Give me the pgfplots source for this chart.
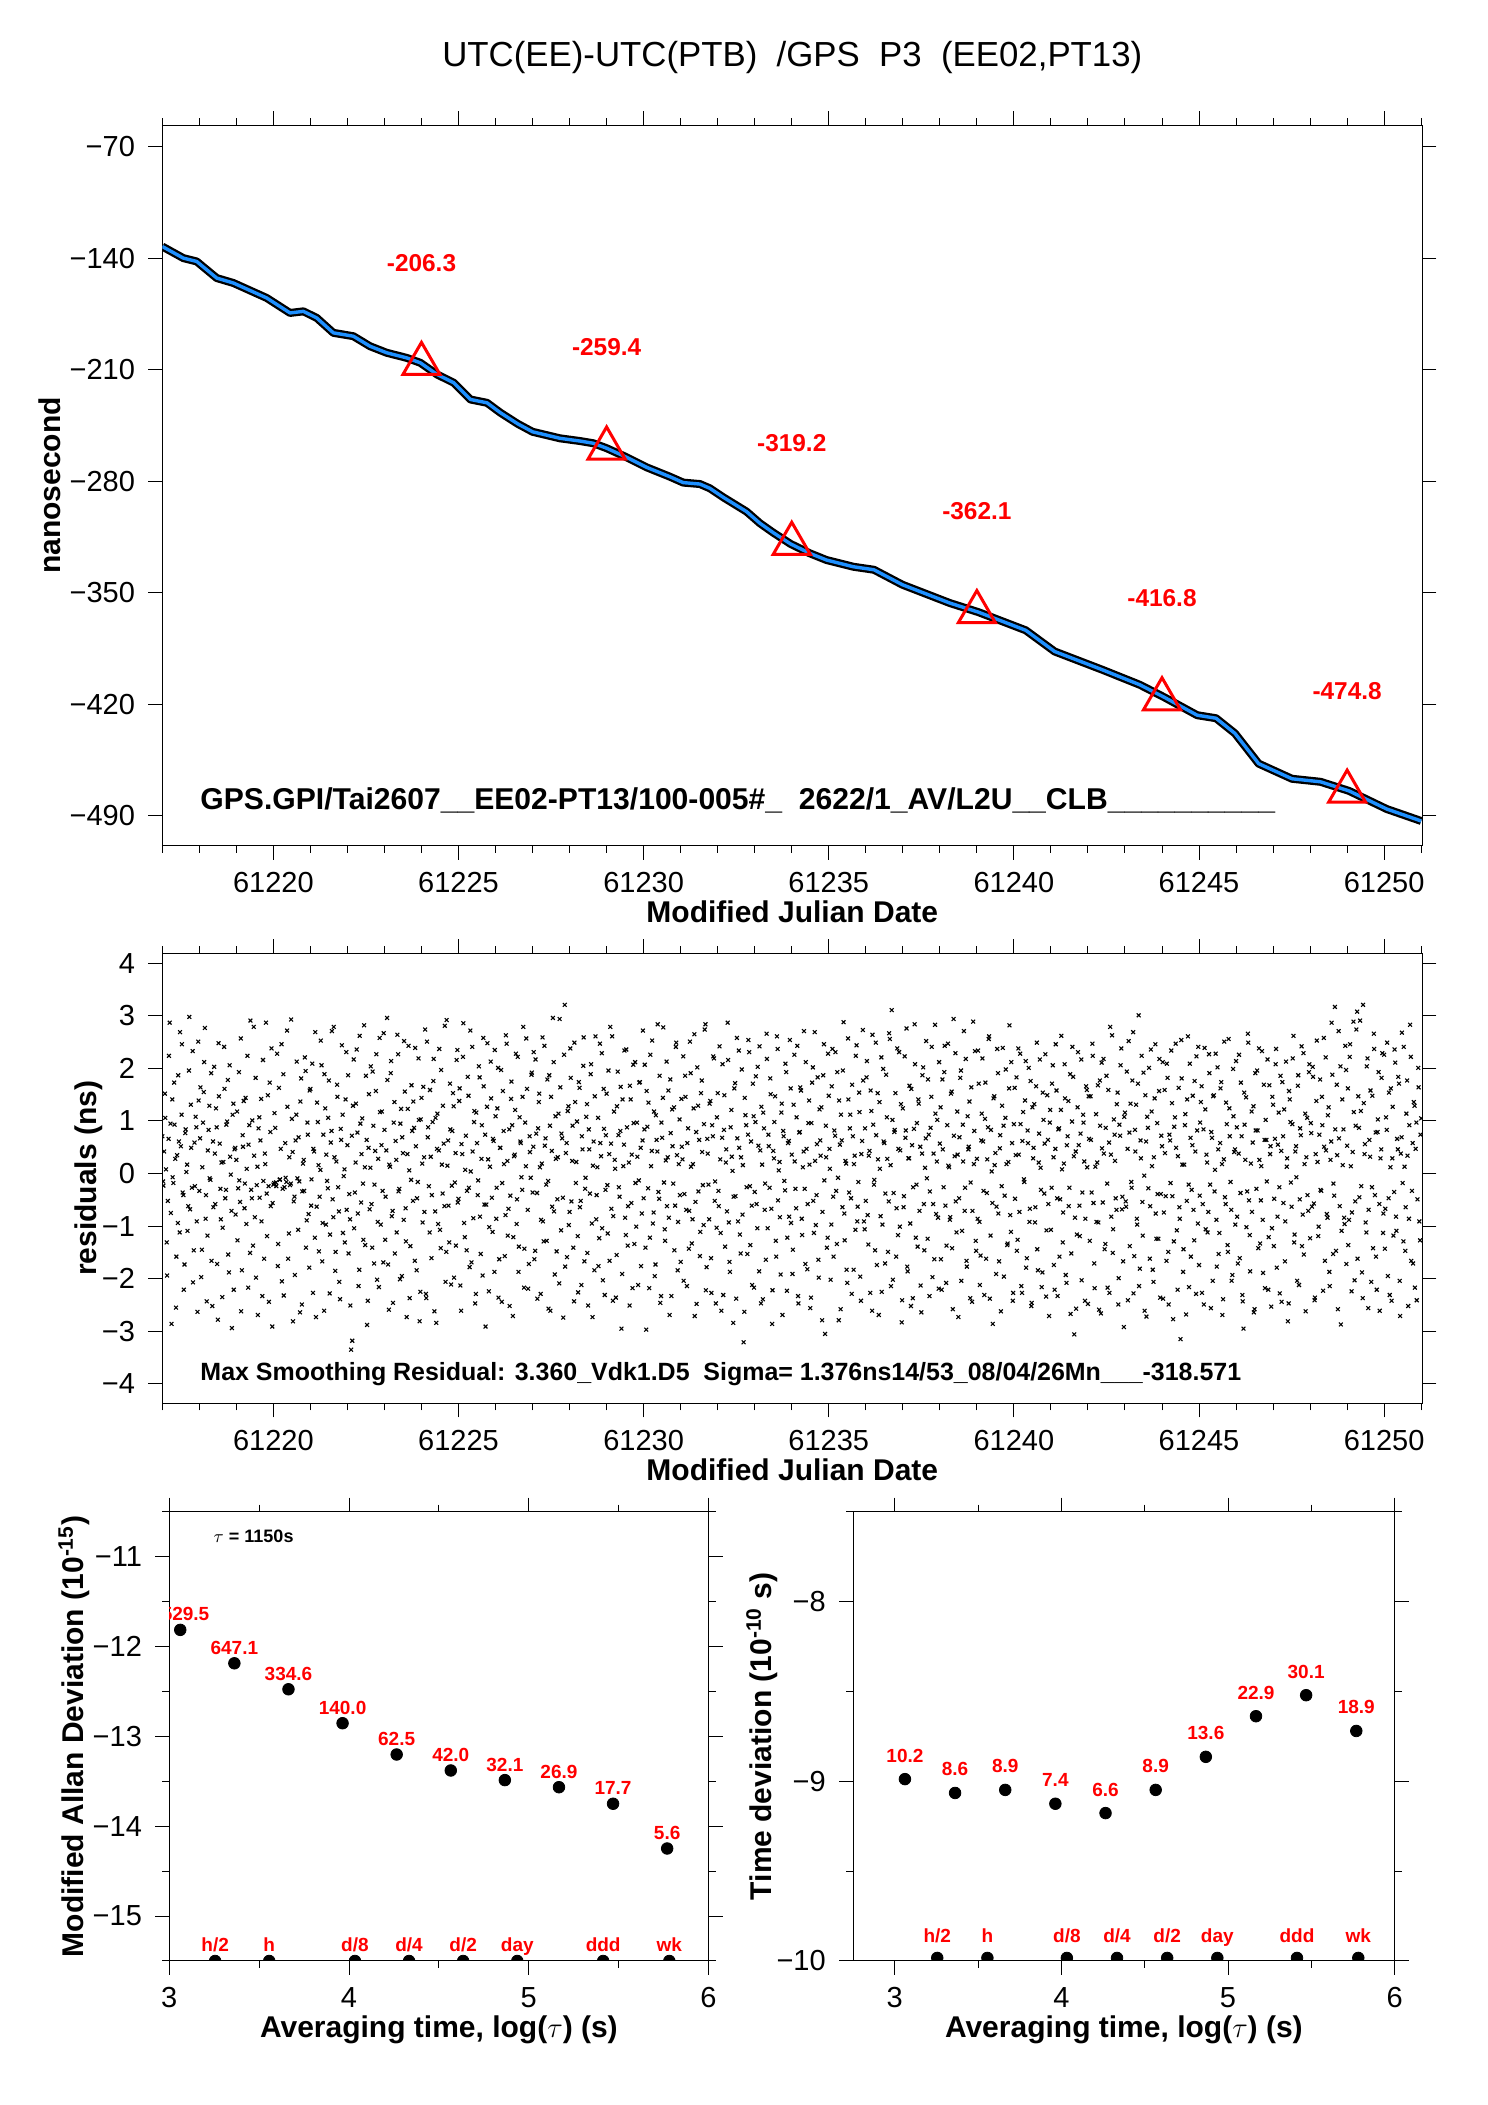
\documentclass[border=0pt]{standalone}
\usepackage{fontspec}
\setmainfont{Liberation Sans}
\usepackage{pgfplots}
\usepackage{pgfplotstable}
\pgfplotsset{compat=1.18}
\definecolor{lineblue}{RGB}{30,144,255}

\pgfplotstableread{
x y
17.00 -132.7
17.57 -140.0
17.93 -142.1
18.47 -152.5
18.92 -155.6
19.82 -165.0
20.45 -174.4
20.81 -173.4
21.17 -177.5
21.62 -186.9
22.16 -189.0
22.61 -195.3
23.06 -199.4
23.60 -202.6
23.97 -205.7
24.42 -213.0
24.87 -218.2
25.32 -228.7
25.77 -230.8
26.13 -237.0
26.60 -244.0
27.00 -249.0
27.74 -253.1
28.28 -254.8
28.64 -256.2
29.00 -259.3
29.54 -265.0
30.08 -271.3
30.71 -277.2
31.07 -280.9
31.52 -281.8
31.79 -284.5
32.15 -290.1
32.78 -299.1
33.14 -306.4
33.50 -312.3
33.97 -319.4
34.49 -325.3
34.94 -329.5
35.66 -333.7
36.22 -335.6
36.99 -345.0
38.27 -356.5
39.04 -362.2
40.32 -373.6
41.10 -386.9
42.38 -398.3
43.40 -407.8
44.05 -415.5
44.95 -426.9
45.46 -428.8
45.97 -438.3
46.61 -457.3
47.51 -466.8
48.28 -468.7
49.05 -474.4
50.07 -485.8
51.00 -493.3
}\smoothtab

\pgfplotstableread{
x y lab
24 -206.3 -206.3
29 -259.4 -259.4
34 -319.2 -319.2
39 -362.1 -362.1
44 -416.8 -416.8
49 -474.8 -474.8
}\tritab

\pgfplotstableread{
x y lab
3.061 -11.815 1529.5
3.362 -12.187 647.1
3.663 -12.476 334.6
3.964 -12.854 140.0
4.265 -13.202 62.5
4.566 -13.380 42.0
4.867 -13.487 32.1
5.168 -13.566 26.9
5.469 -13.750 17.7
5.770 -14.248 5.6
}\mdevtab

\pgfplotstableread{
x y lab
3.061 -8.988 10.2
3.362 -9.065 8.6
3.663 -9.048 8.9
3.964 -9.125 7.4
4.265 -9.177 6.6
4.566 -9.048 8.9
4.867 -8.864 13.6
5.168 -8.638 22.9
5.469 -8.521 30.1
5.770 -8.720 18.9
}\tdevtab

\pgfplotstableread{
x y lab
3.255 -15.5 h/2
3.556 -15.5 h
4.033 -15.5 d/8
4.334 -15.5 d/4
4.635 -15.5 d/2
4.936 -15.5 day
5.414 -15.5 ddd
5.782 -15.5 wk
}\markltab

\pgfplotstableread{
x y lab
3.255 -9.983 h/2
3.556 -9.983 h
4.033 -9.983 d/8
4.334 -9.983 d/4
4.635 -9.983 d/2
4.936 -9.983 day
5.414 -9.983 ddd
5.782 -9.983 wk
}\markrtab

\pgfplotsset{
  myax/.style={
    scale only axis, anchor=south west,
    axis line style={line width=0.5pt},
    tick align=outside,
    major tick length=7pt, minor tick length=3.5pt,
    every tick/.append style={line width=0.5pt, black},
    xticklabel style={font=\fontsize{14.5}{17}\selectfont, anchor=base, inner sep=0pt, yshift=-16.5pt},
    yticklabel style={font=\fontsize{14.5}{17}\selectfont, anchor=east, inner sep=0pt, xshift=-6.5pt},
    xlabel style={font=\bfseries\fontsize{15}{18}\selectfont, at={(axis description cs:0.5,0)}, anchor=base, yshift=-38.5pt},
    ylabel style={font=\bfseries\fontsize{15}{18}\selectfont, anchor=base},
    clip marker paths=true,
  },
  mjdax/.style={
    xmin=17, xmax=51.03,
    xtick={20,25,30,35,40,45,50},
    xticklabels={61220,61225,61230,61235,61240,61245,61250},
    minor xtick={17,...,51},
    xlabel={Modified Julian Date},
  },
  tauax/.style={
    xmax=6,
    xtick={3,4,5,6}, xticklabels={3,4,5,6},
    minor xtick={3.5,4.5,5.5},
    xlabel={Averaging time, log($\tau$) (s)},
  },
  resmark/.style={only marks, mark=x, mark size=1.35pt, mark options={black, line width=0.55pt}},
}

\begin{document}
\begin{tikzpicture}
\useasboundingbox (0,0) rectangle (744pt,1052.5pt);

% ---------------- top: time series ----------------
\begin{axis}[myax, mjdax,
  at={(81.15pt,629.65pt)}, width=630pt, height=360.2pt,
  ymin=-508.8, ymax=-56.6,
  ytick={-490,-420,-350,-280,-210,-140,-70},
  yticklabels={−490,−420,−350,−280,−210,−140,−70},
  ylabel={nanosecond},
  ylabel style={at={(axis description cs:-0.0811,0.5)}},
  title={UTC(EE)-UTC(PTB)\ \ /GPS\ \ P3\ \ (EE02,PT13)},
  title style={at={(axis description cs:0.5,1)}, anchor=base, yshift=23.5pt, font=\fontsize{17.4}{20}\selectfont},
]
\addplot[black, line width=4pt, line join=round] table {\smoothtab};
\addplot[lineblue, line width=1.7pt, line join=round] table {\smoothtab};
\addplot[only marks, mark=triangle, mark size=10.7pt,
  mark options={red, line width=1.5pt, line join=miter},
  point meta=explicit symbolic, nodes near coords,
  every node near coord/.append style={text=red, font=\bfseries\fontsize{12.2}{14}\selectfont, anchor=base, yshift=46.2pt, inner sep=0pt}]
  table[meta=lab] {\tritab};
\node[anchor=base west, inner sep=0pt, font=\bfseries\fontsize{15.05}{17}\selectfont] at (axis cs:18.02,-486)
  {GPS.GPI/Tai2607\_\_EE02-PT13/100-005\#\_\ \ 2622/1\_AV/L2U\_\_CLB\_\_\_\_\_\_\_\_\_\_};
\end{axis}

% ---------------- middle: residuals ----------------
\begin{axis}[myax, mjdax,
  at={(81.15pt,350.85pt)}, width=630pt, height=225pt,
  ymin=-4.37, ymax=4.19,
  ytick={-4,-3,-2,-1,0,1,2,3,4},
  yticklabels={−4,−3,−2,−1,0,1,2,3,4},
  ylabel={residuals (ns)},
  ylabel style={at={(axis description cs:-0.0521,0.5)}},
]
\addplot[resmark] coordinates {
(17.00,0.71)(17.03,-0.23)(17.07,1.52)(17.10,0.08)(17.13,-1.94)(17.17,0.66)(17.20,2.87)(17.23,-0.75)(17.27,1.41)(17.30,-0.18)
(17.33,0.93)(17.37,-2.55)(17.40,0.35)(17.43,1.87)(17.47,-1.12)(17.50,0.52)(17.53,2.46)(17.57,-0.41)(17.60,-1.73)(17.63,0.84)
(17.67,0.17)(17.70,-0.62)(17.73,2.98)(17.77,1.31)(17.80,-0.27)(17.83,-2.07)(17.87,0.59)(17.90,1.08)(17.93,-0.91)(17.97,2.51)
(18.00,-0.33)(18.03,1.64)(18.07,-1.45)(18.10,0.97)(18.13,2.12)(18.17,-0.86)(18.20,-2.43)(18.23,0.44)(18.27,1.29)(18.30,-0.12)
(18.33,-1.66)(18.37,0.61)(18.40,2.03)(18.43,-0.58)(18.47,0.88)(18.50,-2.78)(18.53,1.47)(18.57,-0.29)(18.60,0.21)(18.63,-1.03)
(18.67,2.41)(18.70,-0.47)(18.73,0.93)(18.77,1.78)(18.80,-1.88)(18.83,0.32)(18.87,-0.71)(18.90,1.12)(18.93,-2.21)(18.97,0.49)
(19.00,0.26)(19.03,-1.27)(19.07,1.93)(19.10,-0.54)(19.13,-2.62)(19.17,0.73)(19.20,1.38)(19.23,-0.19)(19.27,-0.96)(19.30,2.24)
(19.33,0.55)(19.37,-1.51)(19.40,-0.31)(19.43,1.01)(19.47,2.79)(19.50,-0.83)(19.53,-1.98)(19.57,0.13)(19.60,0.86)(19.63,-0.46)
(19.67,1.42)(19.70,-2.33)(19.73,-0.14)(19.77,0.38)(19.80,2.87)(19.83,-1.19)(19.87,-0.24)(19.90,1.73)(19.93,-0.62)(19.97,-2.91)
(20.00,-0.21)(20.03,1.15)(20.07,-0.17)(20.10,2.28)(20.13,-1.34)(20.17,-0.12)(20.20,0.47)(20.23,-2.05)(20.27,1.89)(20.30,-0.26)
(20.33,-0.08)(20.37,2.72)(20.40,-1.62)(20.43,0.31)(20.47,-0.19)(20.50,1.04)(20.53,-2.81)(20.57,-0.44)(20.60,0.63)(20.63,2.13)
(20.67,-1.07)(20.70,-0.15)(20.73,1.37)(20.77,-2.49)(20.80,0.19)(20.83,-0.33)(20.87,1.95)(20.90,-0.89)(20.93,0.74)(20.97,-1.79)
(21.00,1.61)(21.03,-0.11)(21.07,-2.27)(21.10,0.42)(21.13,2.69)(21.17,-0.63)(21.20,0.98)(21.23,-1.48)(21.27,0.07)(21.30,2.06)
(21.33,-0.94)(21.37,-2.61)(21.40,1.24)(21.43,0.36)(21.47,-0.28)(21.50,1.77)(21.53,-1.16)(21.57,0.81)(21.60,-0.49)(21.63,2.79)
(21.67,-1.85)(21.70,0.23)(21.73,1.46)(21.77,-0.72)(21.80,-2.39)(21.83,0.64)(21.87,1.12)(21.90,-0.05)(21.93,-1.31)(21.97,2.31)
(22.00,0.54)(22.03,-1.52)(22.07,-0.87)(22.10,-3.35)(22.13,-3.18)(22.17,2.17)(22.20,-0.36)(22.23,1.33)(22.27,0.78)(22.30,-2.14)
(22.33,2.62)(22.37,-0.55)(22.40,1.05)(22.43,-1.26)(22.47,0.12)(22.50,1.86)(22.53,-2.88)(22.57,0.49)(22.60,-0.68)(22.63,2.04)
(22.67,-1.41)(22.70,0.91)(22.73,-0.21)(22.77,1.57)(22.80,-2.02)(22.83,0.28)(22.87,2.58)(22.90,-0.97)(22.93,1.18)(22.97,-1.69)
(23.00,0.83)(23.03,-0.44)(23.07,2.96)(23.10,-1.73)(23.13,0.17)(23.17,1.91)(23.20,-0.81)(23.23,-2.46)(23.27,1.36)(23.30,0.62)
(23.33,-1.12)(23.37,2.27)(23.40,-0.29)(23.43,0.95)(23.47,-1.95)(23.50,0.39)(23.53,2.52)(23.57,-0.66)(23.60,-2.73)(23.63,1.23)
(23.67,0.06)(23.70,-1.38)(23.73,1.68)(23.77,-0.52)(23.80,0.87)(23.83,2.39)(23.87,-1.84)(23.90,-0.16)(23.93,1.02)(23.97,-2.25)
(24.00,1.44)(24.03,-0.93)(24.07,0.31)(24.10,2.74)(24.13,-2.37)(24.17,0.69)(24.20,-0.24)(24.23,1.59)(24.27,-1.61)(24.30,0.98)
(24.33,2.18)(24.37,-0.72)(24.40,-2.84)(24.43,1.14)(24.47,0.44)(24.50,-1.07)(24.53,1.97)(24.57,-0.38)(24.60,0.57)(24.63,2.81)
(24.67,-1.49)(24.70,0.15)(24.73,-0.61)(24.77,1.71)(24.80,-2.11)(24.83,0.81)(24.87,1.28)(24.90,-0.17)(24.93,-1.37)(24.97,2.35)
(25.00,-0.48)(25.03,1.62)(25.07,-2.61)(25.10,0.37)(25.13,2.86)(25.17,-1.21)(25.20,0.72)(25.23,-0.33)(25.27,1.48)(25.30,-1.78)
(25.33,0.04)(25.37,2.41)(25.40,-0.85)(25.43,1.19)(25.47,-2.29)(25.50,0.58)(25.53,-0.13)(25.57,1.83)(25.60,-1.53)(25.63,0.92)
(25.67,2.58)(25.70,-0.59)(25.73,-2.91)(25.77,1.27)(25.80,0.27)(25.83,-1.02)(25.87,2.13)(25.90,-0.46)(25.93,0.66)(25.97,-1.87)
(26.00,1.09)(26.03,-0.27)(26.07,2.01)(26.10,-1.63)(26.13,0.49)(26.17,-2.44)(26.20,1.57)(26.23,0.18)(26.27,-0.79)(26.30,2.47)
(26.33,-1.18)(26.37,0.84)(26.40,-0.42)(26.43,1.75)(26.47,-2.71)(26.50,0.33)(26.53,1.21)(26.57,-0.96)(26.60,2.22)(26.63,-1.39)
(26.67,0.61)(26.70,-0.07)(26.73,1.46)(26.77,-2.17)(26.80,0.97)(26.83,2.57)(26.87,-0.69)(26.90,-1.72)(26.93,0.41)(26.97,1.88)
(27.00,-0.36)(27.03,2.31)(27.07,-1.47)(27.10,0.76)(27.13,-2.38)(27.17,1.36)(27.20,0.12)(27.23,-0.88)(27.27,2.59)(27.30,-1.29)
(27.33,0.53)(27.37,-0.21)(27.40,1.79)(27.43,-2.57)(27.47,0.91)(27.50,1.46)(27.53,-0.63)(27.57,2.12)(27.60,-1.92)(27.63,0.28)
(27.67,-0.49)(27.70,1.14)(27.73,2.94)(27.77,-1.08)(27.80,0.67)(27.83,-2.74)(27.87,3.21)(27.90,0.39)(27.93,-1.59)(27.97,1.28)
(28.00,-0.73)(28.03,1.82)(28.07,0.24)(28.10,-1.41)(28.13,2.49)(28.17,-0.18)(28.20,0.99)(28.23,-2.26)(28.27,1.63)(28.30,-0.52)
(28.33,0.71)(28.37,2.05)(28.40,-1.67)(28.43,-0.08)(28.47,1.32)(28.50,-2.51)(28.53,0.46)(28.57,1.89)(28.60,-0.95)(28.63,0.15)
(28.67,-1.84)(28.70,2.61)(28.73,-0.41)(28.77,1.06)(28.80,-1.23)(28.83,0.58)(28.87,2.29)(28.90,-2.03)(28.93,0.85)(28.97,-0.31)
(29.00,1.52)(29.03,-1.14)(29.07,0.37)(29.10,2.79)(29.13,-0.67)(29.17,-2.42)(29.20,1.18)(29.23,0.09)(29.27,-1.55)(29.30,1.94)
(29.33,-0.26)(29.37,0.81)(29.40,-2.95)(29.43,1.41)(29.47,0.55)(29.50,-0.84)(29.53,2.36)(29.57,-1.37)(29.60,0.21)(29.63,1.67)
(29.67,-0.56)(29.70,-2.18)(29.73,0.96)(29.77,2.12)(29.80,-1.01)(29.83,0.32)(29.87,-0.13)(29.90,1.74)(29.93,-1.76)(29.97,0.63)
(30.00,-0.47)(30.03,2.07)(30.07,-2.97)(30.10,0.89)(30.13,1.35)(30.17,-1.22)(30.20,0.14)(30.23,2.53)(30.27,-0.74)(30.30,-1.95)
(30.33,1.11)(30.37,0.42)(30.40,-0.35)(30.43,1.86)(30.47,-2.33)(30.50,0.68)(30.53,2.78)(30.57,-1.06)(30.60,0.25)(30.63,-0.62)
(30.67,1.58)(30.70,-2.69)(30.73,0.77)(30.77,1.22)(30.80,-0.19)(30.83,-1.46)(30.87,2.41)(30.90,0.35)(30.93,-0.92)(30.97,1.03)
(31.00,-1.68)(31.03,0.51)(31.07,2.23)(31.10,-0.39)(31.13,1.46)(31.17,-2.14)(31.20,0.86)(31.23,-0.71)(31.27,1.91)(31.30,-1.33)
(31.33,0.18)(31.37,2.65)(31.40,-0.54)(31.43,-2.48)(31.47,1.29)(31.50,0.64)(31.53,-1.11)(31.57,1.77)(31.60,-0.22)(31.63,0.94)
(31.67,2.84)(31.70,-1.78)(31.73,0.38)(31.77,-0.87)(31.80,1.38)(31.83,-2.27)(31.87,0.71)(31.90,2.19)(31.93,-0.15)(31.97,-1.03)
(32.00,1.53)(32.03,-0.62)(32.07,0.27)(32.10,-2.61)(32.13,2.08)(32.17,0.83)(32.20,-1.39)(32.23,0.46)(32.27,2.87)(32.30,-0.93)
(32.33,-1.87)(32.37,1.21)(32.40,0.05)(32.43,-0.44)(32.47,1.72)(32.50,-2.38)(32.53,0.67)(32.57,2.34)(32.60,-1.16)(32.63,0.31)
(32.67,-0.78)(32.70,-3.21)(32.73,1.44)(32.77,0.92)(32.80,-1.53)(32.83,2.54)(32.87,-0.24)(32.90,0.61)(32.93,-2.12)(32.97,1.09)
(33.00,-0.35)(33.03,1.85)(33.07,-1.04)(33.10,0.53)(33.13,2.42)(33.17,-2.47)(33.20,0.17)(33.23,1.16)(33.27,-0.69)(33.30,-1.64)
(33.33,2.18)(33.37,0.74)(33.40,-0.27)(33.43,1.51)(33.47,-2.86)(33.50,0.43)(33.53,0.98)(33.57,-1.28)(33.60,2.61)(33.63,-0.51)
(33.67,0.22)(33.70,-1.92)(33.73,1.33)(33.77,0.81)(33.80,-0.14)(33.83,2.09)(33.87,-2.23)(33.90,0.58)(33.93,-0.82)(33.97,1.62)
(34.00,0.36)(34.03,-1.45)(34.07,2.26)(34.10,-0.29)(34.13,1.07)(34.17,-2.33)(34.20,0.78)(34.23,1.64)(34.27,-0.86)(34.30,0.12)
(34.33,2.71)(34.37,-1.72)(34.40,0.47)(34.43,-0.58)(34.47,1.39)(34.50,-2.56)(34.53,0.96)(34.57,2.02)(34.60,-1.13)(34.63,0.24)
(34.67,-0.41)(34.70,1.83)(34.73,-1.98)(34.77,0.63)(34.80,1.26)(34.83,-0.73)(34.87,2.46)(34.90,-3.05)(34.93,0.31)(34.97,-1.22)
(35.00,1.48)(35.03,0.09)(35.07,-0.97)(35.10,2.37)(35.13,-1.58)(35.17,0.72)(35.20,-0.33)(35.23,1.93)(35.27,-2.79)(35.30,0.55)
(35.33,1.12)(35.37,-0.64)(35.40,2.88)(35.43,-1.27)(35.47,0.19)(35.50,-2.08)(35.53,1.41)(35.57,0.86)(35.60,-0.47)(35.63,1.69)
(35.67,-1.83)(35.70,0.34)(35.73,2.24)(35.77,-0.91)(35.80,-0.16)(35.83,1.17)(35.87,-2.42)(35.90,0.62)(35.93,1.77)(35.97,-1.06)
(36.00,-0.52)(36.03,2.14)(36.07,-1.35)(36.10,0.43)(36.13,1.58)(36.17,-2.61)(36.20,0.93)(36.23,-0.12)(36.27,2.49)(36.30,-1.74)
(36.33,0.27)(36.37,1.36)(36.40,-0.81)(36.43,-2.25)(36.47,1.99)(36.50,0.58)(36.53,-0.38)(36.57,1.07)(36.60,-1.49)(36.63,2.67)
(36.67,0.16)(36.70,3.11)(36.73,-2.02)(36.77,0.79)(36.80,1.53)(36.83,-0.66)(36.87,-1.17)(36.90,2.31)(36.93,0.44)(36.97,-2.83)
(37.00,1.24)(37.03,-0.43)(37.07,0.68)(37.10,2.76)(37.13,-1.86)(37.17,0.29)(37.20,-0.95)(37.23,1.61)(37.27,-2.37)(37.30,0.85)
(37.33,2.08)(37.37,-0.21)(37.40,-1.39)(37.43,1.33)(37.47,0.51)(37.50,-2.64)(37.53,1.87)(37.57,-0.58)(37.60,0.11)(37.63,2.52)
(37.67,-1.24)(37.70,0.74)(37.73,-0.34)(37.77,1.46)(37.80,-1.97)(37.83,0.38)(37.87,2.83)(37.90,-0.77)(37.93,1.02)(37.97,-2.19)
(38.00,0.57)(38.03,-1.63)(38.07,1.79)(38.10,-0.26)(38.13,2.43)(38.17,-2.08)(38.20,0.92)(38.23,0.15)(38.27,-0.88)(38.30,1.52)
(38.33,-1.42)(38.37,2.94)(38.40,0.33)(38.43,-0.53)(38.47,1.18)(38.50,-2.73)(38.53,0.69)(38.57,1.96)(38.60,-1.09)(38.63,0.23)
(38.67,-0.71)(38.70,2.18)(38.73,-1.77)(38.77,0.46)(38.80,1.37)(38.83,-0.17)(38.87,-2.44)(38.90,2.89)(38.93,0.81)(38.97,-1.28)
(39.00,0.28)(39.03,2.34)(39.07,-0.92)(39.10,-1.56)(39.13,1.14)(39.17,0.61)(39.20,-2.31)(39.23,1.73)(39.27,-0.37)(39.30,0.88)
(39.33,2.61)(39.37,-1.18)(39.40,0.04)(39.43,-2.86)(39.47,1.47)(39.50,0.39)(39.53,-0.63)(39.57,1.91)(39.60,-1.67)(39.63,0.73)
(39.67,-0.24)(39.70,2.39)(39.73,-1.96)(39.77,1.06)(39.80,0.18)(39.83,-1.33)(39.87,1.62)(39.90,-0.79)(39.93,2.12)(39.97,-2.42)
(40.00,0.94)(40.03,-0.48)(40.07,1.83)(40.10,-1.26)(40.13,0.36)(40.17,2.28)(40.20,-2.14)(40.23,0.62)(40.27,-0.11)(40.30,1.39)
(40.33,-1.79)(40.37,0.82)(40.40,2.01)(40.43,-0.67)(40.47,-2.52)(40.50,1.26)(40.53,0.49)(40.57,-0.93)(40.60,1.66)(40.63,-1.44)
(40.67,0.21)(40.70,2.17)(40.73,-0.31)(40.77,-1.88)(40.80,1.02)(40.83,0.57)(40.87,-2.34)(40.90,1.49)(40.93,-0.58)(40.97,0.97)
(41.00,-1.07)(41.03,1.71)(41.07,0.31)(41.10,-2.21)(41.13,2.46)(41.17,-0.47)(41.20,0.84)(41.23,-1.58)(41.27,1.21)(41.30,0.08)
(41.33,-0.74)(41.37,2.08)(41.40,-1.93)(41.43,0.54)(41.47,1.38)(41.50,-0.27)(41.53,-2.67)(41.57,0.99)(41.60,1.84)(41.63,-3.06)
(41.67,0.42)(41.70,-1.16)(41.73,2.31)(41.77,-0.61)(41.80,0.76)(41.83,-2.03)(41.87,1.12)(41.90,0.23)(41.93,-0.86)(41.97,1.59)
(42.00,-2.48)(42.03,0.66)(42.07,1.47)(42.10,-0.36)(42.13,2.24)(42.17,-1.71)(42.20,0.13)(42.23,-0.92)(42.27,1.68)(42.30,-2.59)
(42.33,0.91)(42.37,2.11)(42.40,-0.55)(42.43,0.38)(42.47,-1.34)(42.50,1.86)(42.53,-2.17)(42.57,0.59)(42.60,2.79)(42.63,-0.82)
(42.67,-1.51)(42.70,1.03)(42.73,0.24)(42.77,-0.69)(42.80,1.54)(42.83,-1.99)(42.87,0.72)(42.90,2.38)(42.93,-0.44)(42.97,-2.92)
(43.00,1.16)(43.03,-0.63)(43.07,0.47)(43.10,2.52)(43.13,-1.38)(43.17,-0.16)(43.20,1.77)(43.23,-2.28)(43.27,0.83)(43.30,1.31)
(43.33,-0.97)(43.37,3.01)(43.40,-1.81)(43.43,0.29)(43.47,-0.54)(43.50,1.92)(43.53,-2.61)(43.57,0.61)(43.60,1.08)(43.63,-0.28)
(43.67,-1.62)(43.70,2.36)(43.73,0.14)(43.77,-2.06)(43.80,1.43)(43.83,-0.76)(43.87,0.96)(43.90,-1.24)(43.93,2.18)(43.97,-0.39)
(44.00,0.52)(44.03,-2.38)(44.07,1.59)(44.10,-0.43)(44.13,2.09)(44.17,-1.49)(44.20,0.74)(44.23,-0.18)(44.27,1.34)(44.30,-2.77)
(44.33,0.89)(44.37,2.47)(44.40,-1.08)(44.43,0.33)(44.47,-0.64)(44.50,-3.15)(44.53,1.81)(44.57,-1.87)(44.60,0.17)(44.63,1.13)
(44.67,-0.52)(44.70,2.61)(44.73,-2.16)(44.77,0.68)(44.80,-0.31)(44.83,1.48)(44.87,-1.27)(44.90,0.42)(44.93,2.23)(44.97,-0.95)
(45.00,-1.74)(45.03,0.97)(45.07,1.66)(45.10,-0.58)(45.13,-2.49)(45.17,1.22)(45.20,0.36)(45.23,-1.12)(45.27,2.27)(45.30,-0.21)
(45.33,0.79)(45.37,-2.04)(45.40,1.49)(45.43,0.07)(45.47,-0.88)(45.50,2.02)(45.53,-1.53)(45.57,0.58)(45.60,1.74)(45.63,-2.69)
(45.67,0.27)(45.70,-0.45)(45.73,1.35)(45.77,-1.36)(45.80,2.56)(45.83,0.71)(45.87,-0.69)(45.90,-1.93)(45.93,1.09)(45.97,0.46)
(46.00,2.14)(46.03,-0.82)(46.07,0.38)(46.10,-1.61)(46.13,1.73)(46.17,-2.31)(46.20,-2.95)(46.23,0.93)(46.27,1.45)(46.30,-0.34)
(46.33,2.49)(46.37,-1.17)(46.40,0.19)(46.43,-0.73)(46.47,1.28)(46.50,-2.58)(46.53,0.82)(46.57,1.96)(46.60,-1.42)(46.63,0.26)
(46.67,-0.51)(46.70,2.33)(46.73,-1.89)(46.77,0.64)(46.80,1.02)(46.83,-0.15)(46.87,-2.21)(46.90,1.68)(46.93,0.52)(46.97,-1.04)
(47.00,1.31)(47.03,-0.48)(47.07,2.08)(47.10,-1.79)(47.13,0.55)(47.17,-0.26)(47.20,1.86)(47.23,-2.44)(47.27,0.71)(47.30,1.22)
(47.33,-0.91)(47.37,0.13)(47.40,-2.81)(47.43,1.57)(47.47,0.98)(47.50,-0.63)(47.53,2.19)(47.57,-1.31)(47.60,0.42)(47.63,-0.07)
(47.67,1.67)(47.70,-2.12)(47.73,0.86)(47.77,2.42)(47.80,-0.78)(47.83,-1.54)(47.87,1.14)(47.90,0.31)(47.93,-0.41)(47.97,1.93)
(48.00,-1.23)(48.03,0.77)(48.07,2.03)(48.10,-0.57)(48.13,-2.36)(48.17,1.38)(48.20,0.22)(48.23,-1.01)(48.27,1.79)(48.30,-0.33)
(48.33,0.92)(48.37,2.58)(48.40,-1.66)(48.43,0.44)(48.47,-0.84)(48.50,1.26)(48.53,-2.14)(48.57,0.61)(48.60,1.88)(48.63,-0.19)
(48.67,3.17)(48.70,-1.47)(48.73,0.35)(48.77,2.71)(48.80,-0.62)(48.83,-2.87)(48.87,1.41)(48.90,0.84)(48.93,-0.96)(48.97,1.97)
(49.00,0.53)(49.03,-1.36)(49.07,2.22)(49.10,0.14)(49.13,-0.74)(49.17,2.89)(49.20,-2.03)(49.23,0.91)(49.27,3.08)(49.30,1.47)
(49.33,-0.45)(49.37,1.19)(49.40,-1.88)(49.43,3.21)(49.47,0.37)(49.50,-0.93)(49.53,2.04)(49.57,-2.56)(49.60,0.64)(49.63,1.58)
(49.67,-0.26)(49.70,-1.42)(49.73,2.37)(49.77,0.78)(49.80,-2.21)(49.83,1.03)(49.87,-0.58)(49.90,0.29)(49.93,1.82)(49.97,-1.13)
(50.00,2.26)(50.03,-0.67)(50.07,0.83)(50.10,-1.95)(50.13,1.54)(50.17,0.12)(50.20,-2.42)(50.23,1.27)(50.27,-0.35)(50.30,2.11)
(50.33,-1.09)(50.37,0.46)(50.40,1.71)(50.43,-2.71)(50.47,0.69)(50.50,-0.18)(50.53,2.41)(50.57,-1.47)(50.60,1.14)(50.63,0.34)
(50.67,-0.86)(50.70,2.83)(50.73,-1.66)(50.77,0.58)(50.80,1.36)(50.83,-2.17)(50.87,0.97)(50.90,-0.49)(50.93,1.64)(50.97,-1.27)
(51.00,1.05)
};
\addplot[resmark] coordinates {
(17.02,-0.15)(17.05,0.42)(17.08,1.06)(17.12,-1.31)(17.15,-0.52)(17.18,2.24)(17.22,0.95)(17.25,-2.86)(17.28,-0.07)(17.32,1.73)
(17.35,0.28)(17.38,-1.58)(17.42,-0.94)(17.45,0.61)(17.48,2.69)(17.52,1.12)(17.55,-0.36)(17.58,-2.21)(17.62,0.77)(17.65,0.03)
(17.68,-1.09)(17.72,1.96)(17.75,-0.68)(17.78,0.49)(17.82,2.33)(17.85,-1.46)(17.88,-0.24)(17.92,0.88)(17.95,-2.63)(17.98,1.39)
(18.02,0.67)(18.05,-1.97)(18.08,0.12)(18.12,1.55)(18.15,2.77)(18.18,-0.41)(18.22,-1.18)(18.25,0.83)(18.28,-0.09)(18.32,1.91)
(18.35,-2.52)(18.38,-0.64)(18.42,0.38)(18.45,1.24)(18.48,-1.72)(18.52,2.48)(18.55,0.57)(18.58,-0.87)(18.62,-2.35)(18.65,0.22)
(18.68,1.61)(18.72,-0.31)(18.75,0.99)(18.78,-1.54)(18.82,2.06)(18.85,-0.02)(18.88,-2.94)(18.92,1.33)(18.95,0.46)(18.98,-0.78)
(19.02,1.18)(19.05,-0.28)(19.08,-0.13)(19.12,2.57)(19.15,-1.84)(19.18,0.51)(19.22,-0.66)(19.25,1.44)(19.28,0.09)(19.32,-2.17)
(19.35,0.92)(19.38,2.91)(19.42,-0.47)(19.45,-1.37)(19.48,0.34)(19.52,1.82)(19.55,-0.22)(19.58,-2.69)(19.62,1.07)(19.65,0.63)
(19.68,-0.91)(19.72,2.16)(19.75,-1.62)(19.78,0.18)(19.82,-0.38)(19.85,1.49)(19.88,-2.44)(19.92,0.79)(19.95,2.38)(19.98,-0.56)
(20.02,-0.18)(20.05,0.87)(20.08,-0.24)(20.12,-1.76)(20.15,1.63)(20.18,-0.11)(20.22,2.46)(20.25,-0.29)(20.28,-2.32)(20.32,0.58)
(20.35,-0.16)(20.38,1.27)(20.42,-1.14)(20.45,-0.22)(20.48,2.93)(20.52,0.41)(20.55,-0.53)(20.58,-1.93)(20.62,1.12)(20.65,-0.09)
(20.68,0.69)(20.72,-2.64)(20.75,1.81)(20.78,-0.34)(20.82,0.26)(20.85,2.21)(20.88,-1.41)(20.92,0.97)(20.95,-0.77)(20.98,1.58)
(21.02,-0.61)(21.05,2.09)(21.08,0.47)(21.12,-1.22)(21.15,-2.73)(21.18,1.35)(21.22,0.16)(21.25,-0.44)(21.28,2.53)(21.32,-1.67)
(21.35,0.74)(21.38,1.89)(21.42,-0.97)(21.45,-0.14)(21.48,1.06)(21.52,-2.28)(21.55,0.59)(21.58,2.71)(21.62,-0.83)(21.65,0.31)
(21.68,-1.49)(21.72,1.69)(21.75,-0.26)(21.78,-2.06)(21.82,0.85)(21.85,2.44)(21.88,-1.13)(21.92,0.08)(21.95,1.41)(21.98,-0.69)
(22.02,1.87)(22.05,-0.39)(22.08,-2.51)(22.12,0.72)(22.15,1.29)(22.18,-1.04)(22.22,0.21)(22.25,2.36)(22.28,-0.76)(22.32,-1.83)
(22.35,0.95)(22.38,0.37)(22.42,-0.19)(22.45,2.82)(22.48,-1.36)(22.52,0.64)(22.55,-2.42)(22.58,1.51)(22.62,0.11)(22.65,-0.58)
(22.68,1.94)(22.72,-1.71)(22.75,0.43)(22.78,2.27)(22.82,-0.92)(22.85,-2.16)(22.88,1.17)(22.92,0.54)(22.95,-0.33)(22.98,2.67)
(23.02,-1.26)(23.05,0.44)(23.08,1.78)(23.12,-2.59)(23.15,0.13)(23.18,2.14)(23.22,-0.71)(23.25,0.97)(23.28,-1.52)(23.32,0.26)
(23.35,2.64)(23.38,-0.34)(23.42,-2.01)(23.45,1.23)(23.48,0.69)(23.52,-0.88)(23.55,1.56)(23.58,-1.29)(23.62,0.37)(23.65,2.43)
(23.68,-2.37)(23.72,-0.12)(23.75,0.81)(23.78,1.37)(23.82,-1.66)(23.85,0.52)(23.88,-0.47)(23.92,2.19)(23.95,-2.81)(23.98,1.03)
(24.02,0.19)(24.05,1.65)(24.08,-0.73)(24.12,-2.29)(24.15,2.51)(24.18,0.88)(24.22,-1.12)(24.25,0.32)(24.28,-0.41)(24.32,1.76)
(24.35,-2.62)(24.38,1.06)(24.42,0.47)(24.45,-0.96)(24.48,2.37)(24.52,-1.42)(24.55,0.17)(24.58,1.29)(24.62,-0.62)(24.65,-2.06)
(24.68,2.92)(24.72,0.63)(24.75,-1.31)(24.78,0.84)(24.82,-0.23)(24.85,1.53)(24.88,-1.98)(24.92,0.39)(24.95,2.16)(24.98,-0.55)
(25.02,1.38)(25.05,-2.13)(25.08,0.56)(25.12,2.22)(25.15,-0.94)(25.18,0.07)(25.22,-1.46)(25.25,1.84)(25.28,-0.27)(25.32,2.72)
(25.35,-1.69)(25.38,0.42)(25.42,0.98)(25.45,-2.47)(25.48,1.16)(25.52,-0.41)(25.55,2.04)(25.58,-0.82)(25.62,0.28)(25.65,-1.94)
(25.68,1.66)(25.72,0.74)(25.75,-0.59)(25.78,2.48)(25.82,-2.24)(25.85,0.13)(25.88,1.43)(25.92,-1.11)(25.95,0.62)(25.98,2.35)
(26.02,-0.86)(26.05,1.24)(26.08,-2.36)(26.12,0.49)(26.15,1.97)(26.18,-0.18)(26.22,0.81)(26.25,-1.57)(26.28,2.63)(26.32,0.24)
(26.35,-0.67)(26.38,-2.52)(26.42,1.42)(26.45,0.92)(26.48,-1.21)(26.52,0.36)(26.55,2.28)(26.58,-0.49)(26.62,-1.87)(26.65,1.07)
(26.68,0.58)(26.72,-0.31)(26.75,2.79)(26.78,-1.43)(26.82,0.14)(26.85,1.61)(26.88,-2.19)(26.92,0.71)(26.95,-0.08)(26.98,1.92)
(27.02,0.51)(27.05,-1.63)(27.08,2.17)(27.12,-0.37)(27.15,0.86)(27.18,1.52)(27.22,-2.29)(27.25,0.19)(27.28,-0.91)(27.32,2.43)
(27.35,0.67)(27.38,-1.28)(27.42,-0.14)(27.45,1.87)(27.48,-2.61)(27.52,0.43)(27.55,2.96)(27.58,-0.72)(27.62,1.09)(27.65,-1.48)
(27.68,0.31)(27.72,-2.09)(27.75,1.64)(27.78,0.76)(27.82,-0.46)(27.85,2.26)(27.88,-1.77)(27.92,0.58)(27.95,1.19)(27.98,-0.98)
(28.02,2.38)(28.05,-0.53)(28.08,0.91)(28.12,-2.43)(28.15,1.36)(28.18,0.22)(28.22,-1.19)(28.25,1.74)(28.28,-0.64)(28.32,-2.12)
(28.35,0.46)(28.38,2.59)(28.42,-0.29)(28.45,1.08)(28.48,-1.51)(28.52,0.84)(28.55,-0.38)(28.58,2.08)(28.62,-2.73)(28.65,0.61)
(28.68,1.47)(28.72,-0.87)(28.75,0.12)(28.78,-1.76)(28.82,2.47)(28.85,0.33)(28.88,-1.04)(28.92,1.61)(28.95,-2.31)(28.98,0.73)
(29.02,-0.22)(29.05,1.96)(29.08,-1.66)(29.12,0.57)(29.15,2.61)(29.18,-0.81)(29.22,0.26)(29.25,-2.36)(29.28,1.28)(29.32,0.73)
(29.35,-0.44)(29.38,1.65)(29.42,-1.91)(29.45,0.14)(29.48,2.34)(29.52,-1.17)(29.55,0.88)(29.58,-0.62)(29.62,-2.51)(29.65,1.41)
(29.68,0.36)(29.72,2.07)(29.75,-1.34)(29.78,-0.18)(29.82,0.97)(29.85,-2.12)(29.88,1.73)(29.92,0.49)(29.95,-0.76)(29.98,2.72)
(30.02,0.84)(30.05,-1.41)(30.08,1.57)(30.12,-0.28)(30.15,-2.18)(30.18,2.26)(30.22,0.43)(30.25,-0.95)(30.28,1.18)(30.32,-1.73)
(30.35,0.64)(30.38,2.84)(30.42,-0.48)(30.45,-2.46)(30.48,0.97)(30.52,1.44)(30.55,-0.17)(30.58,-1.28)(30.62,2.13)(30.65,0.31)
(30.68,-0.84)(30.72,1.79)(30.75,-2.33)(30.78,0.52)(30.82,1.26)(30.85,-0.61)(30.88,2.49)(30.92,-1.84)(30.95,0.18)(30.98,-0.41)
(31.02,1.42)(31.05,0.27)(31.08,-2.04)(31.12,1.86)(31.15,-0.69)(31.18,0.58)(31.22,-1.43)(31.25,2.51)(31.28,0.13)(31.32,-0.87)
(31.35,1.24)(31.38,-2.71)(31.42,0.79)(31.45,2.02)(31.48,-0.34)(31.52,-1.57)(31.55,1.53)(31.58,0.41)(31.62,-0.98)(31.65,2.74)
(31.68,-2.22)(31.72,0.66)(31.75,-0.21)(31.78,1.33)(31.82,-1.61)(31.85,0.92)(31.88,2.23)(31.92,-0.52)(31.95,-2.47)(31.98,1.07)
(32.02,-0.33)(32.05,2.42)(32.08,-1.13)(32.12,0.68)(32.15,-2.31)(32.18,1.49)(32.22,0.21)(32.25,-0.72)(32.28,2.16)(32.32,-1.68)
(32.35,0.88)(32.38,0.32)(32.42,-2.84)(32.45,1.62)(32.48,-0.43)(32.52,2.58)(32.55,-0.91)(32.58,0.49)(32.62,-1.52)(32.65,1.98)
(32.68,0.16)(32.72,-2.63)(32.75,1.11)(32.78,-0.26)(32.82,0.74)(32.85,2.31)(32.88,-1.36)(32.92,-0.61)(32.95,1.71)(32.98,-2.17)
(33.02,0.98)(33.05,-0.58)(33.08,2.03)(33.12,-1.86)(33.15,0.44)(33.18,1.27)(33.22,-2.39)(33.25,0.86)(33.28,-0.19)(33.32,2.66)
(33.35,-1.04)(33.38,0.52)(33.42,1.81)(33.45,-0.67)(33.48,-2.22)(33.52,0.29)(33.55,1.47)(33.58,-1.58)(33.62,2.37)(33.65,0.06)
(33.68,-0.83)(33.72,1.16)(33.75,-2.69)(33.78,0.71)(33.82,-0.32)(33.85,1.93)(33.88,-1.22)(33.92,0.62)(33.95,2.54)(33.98,-0.94)
(34.02,-1.91)(34.05,1.31)(34.08,0.23)(34.12,-0.66)(34.15,2.43)(34.18,-2.47)(34.22,0.79)(34.25,1.58)(34.28,-1.17)(34.32,0.42)
(34.35,-0.29)(34.38,2.12)(34.42,-1.82)(34.45,0.96)(34.48,0.17)(34.52,-2.36)(34.55,1.73)(34.58,-0.52)(34.62,2.69)(34.65,-0.98)
(34.68,0.56)(34.72,-1.64)(34.75,1.22)(34.78,0.34)(34.82,-2.79)(34.85,1.87)(34.88,-0.13)(34.92,0.91)(34.95,-1.41)(34.98,2.28)
(35.02,0.47)(35.05,-2.02)(35.08,1.66)(35.12,-0.44)(35.15,0.82)(35.18,2.31)(35.22,-1.34)(35.25,-0.08)(35.28,1.39)(35.32,-2.58)
(35.35,0.63)(35.38,1.96)(35.42,-0.76)(35.45,0.24)(35.48,-1.83)(35.52,2.57)(35.55,-0.36)(35.58,1.12)(35.62,-2.29)(35.65,0.71)
(35.68,0.18)(35.72,-1.07)(35.75,2.44)(35.78,-0.63)(35.82,1.54)(35.85,-1.96)(35.88,0.37)(35.92,2.73)(35.95,-0.91)(35.98,0.86)
(36.02,1.83)(36.05,-0.79)(36.08,0.34)(36.12,-2.27)(36.15,1.19)(36.18,2.64)(36.22,-0.21)(36.25,-1.46)(36.28,0.73)(36.32,1.53)
(36.35,-2.69)(36.38,0.09)(36.42,2.21)(36.45,-0.97)(36.48,0.61)(36.52,-1.71)(36.55,1.88)(36.58,0.28)(36.62,-0.53)(36.65,2.56)
(36.68,-2.14)(36.72,1.02)(36.75,-0.37)(36.78,0.83)(36.82,-1.58)(36.85,2.38)(36.88,0.47)(36.92,-1.01)(36.95,1.32)(36.98,-2.41)
(37.02,-0.64)(37.05,2.23)(37.08,0.82)(37.12,-1.77)(37.15,0.29)(37.18,1.67)(37.22,-2.52)(37.25,0.54)(37.28,-0.26)(37.32,2.84)
(37.35,-1.22)(37.38,0.96)(37.42,1.41)(37.45,-0.71)(37.48,-2.13)(37.52,0.38)(37.55,2.02)(37.58,-1.46)(37.62,0.67)(37.65,-0.09)
(37.68,1.79)(37.72,-2.33)(37.75,0.87)(37.78,2.41)(37.82,-0.58)(37.85,-1.63)(37.88,1.14)(37.92,0.23)(37.95,-0.84)(37.98,2.12)
(38.02,1.26)(38.05,-2.21)(38.08,0.46)(38.12,1.93)(38.15,-0.61)(38.18,-1.37)(38.22,2.47)(38.25,0.12)(38.28,-0.83)(38.32,1.56)
(38.35,-2.58)(38.38,0.72)(38.42,2.29)(38.45,-1.12)(38.48,0.36)(38.52,-0.47)(38.55,1.82)(38.58,-2.04)(38.62,0.93)(38.65,2.71)
(38.68,-0.27)(38.72,-1.66)(38.75,1.09)(38.78,0.51)(38.82,-2.37)(38.85,1.64)(38.88,-0.71)(38.92,0.18)(38.95,2.33)(38.98,-1.47)
(39.02,-0.86)(39.05,1.71)(39.08,-2.12)(39.12,0.63)(39.15,2.19)(39.18,-0.33)(39.22,1.04)(39.25,-1.62)(39.28,0.27)(39.32,2.56)
(39.35,-2.38)(39.38,0.83)(39.42,-0.56)(39.45,1.43)(39.48,0.16)(39.52,-1.91)(39.55,2.37)(39.58,-0.76)(39.62,0.48)(39.65,-2.62)
(39.68,1.29)(39.72,0.91)(39.75,-0.42)(39.78,1.98)(39.82,-1.36)(39.85,0.22)(39.88,2.82)(39.92,-1.11)(39.95,0.58)(39.98,-2.27)
(40.02,1.63)(40.05,0.35)(40.08,-1.47)(40.12,2.38)(40.15,-0.73)(40.18,0.94)(40.22,-2.27)(40.25,1.17)(40.28,-0.16)(40.32,2.14)
(40.35,-1.61)(40.38,0.58)(40.42,-0.92)(40.45,1.76)(40.48,-2.46)(40.52,0.29)(40.55,1.32)(40.58,-0.64)(40.62,2.49)(40.65,-1.84)
(40.68,0.76)(40.72,0.11)(40.75,-2.16)(40.78,1.54)(40.82,-0.38)(40.85,2.27)(40.88,-1.08)(40.92,0.64)(40.95,-2.71)(40.98,1.21)
(41.02,-0.27)(41.05,2.06)(41.08,-1.74)(41.12,0.47)(41.15,1.58)(41.18,-2.33)(41.22,0.86)(41.25,-0.49)(41.28,2.62)(41.32,-1.31)
(41.35,0.19)(41.38,1.43)(41.42,-2.08)(41.45,0.71)(41.48,-0.62)(41.52,1.89)(41.55,-1.52)(41.58,2.41)(41.62,0.33)(41.65,-0.84)
(41.68,-2.57)(41.72,1.26)(41.75,0.54)(41.78,-1.19)(41.82,2.17)(41.85,-0.36)(41.88,0.97)(41.92,-2.42)(41.95,1.66)(41.98,0.12)
(42.02,1.47)(42.05,-1.28)(42.08,0.64)(42.12,2.47)(42.15,-0.56)(42.18,-2.18)(42.22,1.13)(42.25,0.21)(42.28,-0.93)(42.32,1.77)
(42.35,-2.66)(42.38,0.48)(42.42,2.18)(42.45,-1.44)(42.48,0.87)(42.52,-0.19)(42.55,1.59)(42.58,-2.27)(42.62,0.36)(42.65,2.63)
(42.68,-1.06)(42.72,0.74)(42.75,-0.47)(42.78,1.32)(42.82,-2.49)(42.85,0.93)(42.88,2.06)(42.92,-0.68)(42.95,-1.67)(42.98,1.08)
(43.02,-0.53)(43.05,1.94)(43.08,-2.41)(43.12,0.78)(43.15,1.33)(43.18,-0.27)(43.22,2.69)(43.25,-1.57)(43.28,0.42)(43.32,-0.86)
(43.35,1.71)(43.38,-2.14)(43.42,0.63)(43.45,2.24)(43.48,-1.18)(43.52,-0.04)(43.55,1.49)(43.58,-2.72)(43.62,0.87)(43.65,2.01)
(43.68,-0.62)(43.72,1.18)(43.75,-1.83)(43.78,0.31)(43.82,2.46)(43.85,-1.24)(43.88,-0.39)(43.92,1.57)(43.95,-2.36)(43.98,0.72)
(44.02,2.12)(44.05,-0.74)(44.08,0.39)(44.12,-1.66)(44.15,1.82)(44.18,-2.49)(44.22,0.63)(44.25,2.34)(44.28,-0.43)(44.32,-1.29)
(44.35,1.07)(44.38,0.49)(44.42,-2.21)(44.45,1.63)(44.48,-0.86)(44.52,2.54)(44.55,0.17)(44.58,-1.44)(44.62,0.92)(44.65,-2.68)
(44.68,1.41)(44.72,-0.21)(44.75,2.09)(44.78,-1.58)(44.82,0.54)(44.85,-0.69)(44.88,1.76)(44.92,-2.29)(44.95,0.82)(44.98,2.41)
(45.02,-0.42)(45.05,1.36)(45.08,-2.27)(45.12,0.84)(45.15,2.39)(45.18,-1.06)(45.22,0.21)(45.25,-0.73)(45.28,1.91)(45.32,-2.56)
(45.35,0.68)(45.38,1.47)(45.42,-0.34)(45.45,2.28)(45.48,-1.77)(45.52,0.46)(45.55,-1.13)(45.58,1.62)(45.62,0.18)(45.65,-2.39)
(45.68,2.51)(45.72,-0.58)(45.75,0.94)(45.78,-1.49)(45.82,1.24)(45.85,-0.16)(45.88,-2.04)(45.92,1.99)(45.95,0.41)(45.98,-0.97)
(46.02,0.88)(46.05,-1.71)(46.08,2.26)(46.12,-0.37)(46.15,0.71)(46.18,-2.43)(46.22,1.54)(46.25,0.26)(46.28,-1.02)(46.32,2.66)
(46.35,-0.51)(46.38,-1.86)(46.42,1.18)(46.45,0.59)(46.48,-2.64)(46.52,1.91)(46.55,-0.29)(46.58,0.82)(46.62,2.38)(46.65,-1.33)
(46.68,0.14)(46.72,-0.88)(46.75,1.69)(46.78,-2.18)(46.82,0.64)(46.85,2.17)(46.88,-1.21)(46.92,0.37)(46.95,-2.53)(46.98,1.46)
(47.02,-1.38)(47.05,0.66)(47.08,2.37)(47.12,-0.82)(47.15,1.16)(47.18,-2.28)(47.22,0.43)(47.25,1.74)(47.28,-0.56)(47.32,-1.67)
(47.35,2.13)(47.38,0.29)(47.42,-2.47)(47.45,1.41)(47.48,-0.17)(47.52,0.94)(47.55,2.62)(47.58,-1.16)(47.62,0.52)(47.65,-2.04)
(47.68,1.87)(47.72,-0.49)(47.75,0.73)(47.78,-1.38)(47.82,2.29)(47.85,0.18)(47.88,-2.62)(47.92,1.06)(47.95,-0.71)(47.98,2.08)
(48.02,0.96)(48.05,-0.63)(48.08,1.84)(48.12,-2.41)(48.15,0.37)(48.18,2.53)(48.22,-1.19)(48.25,0.74)(48.28,-0.31)(48.32,1.46)
(48.35,-2.23)(48.38,0.51)(48.42,2.21)(48.45,-0.77)(48.48,1.11)(48.52,-1.87)(48.55,0.26)(48.58,2.87)(48.62,-1.53)(48.65,-0.42)
(48.68,0.84)(48.72,1.69)(48.75,-2.58)(48.78,0.67)(48.82,2.04)(48.85,-1.09)(48.88,0.16)(48.92,-0.84)(48.95,2.43)(48.98,-1.72)
(49.02,1.62)(49.05,-0.88)(49.08,2.46)(49.12,-2.24)(49.15,0.41)(49.18,1.17)(49.22,-0.53)(49.25,2.74)(49.28,-1.62)(49.32,0.87)
(49.35,2.91)(49.38,-0.24)(49.42,-2.37)(49.45,1.34)(49.48,0.56)(49.52,-1.12)(49.55,2.19)(49.58,-0.69)(49.62,0.32)(49.65,-2.06)
(49.68,1.48)(49.72,2.66)(49.75,-0.41)(49.78,-1.58)(49.82,0.79)(49.85,1.93)(49.88,-2.61)(49.92,0.46)(49.95,2.29)(49.98,-0.76)
(50.02,-1.43)(50.05,1.07)(50.08,2.49)(50.12,-0.47)(50.15,-2.31)(50.18,1.62)(50.22,0.29)(50.25,-1.18)(50.28,2.36)(50.32,-0.82)
(50.35,0.66)(50.38,1.84)(50.42,-2.04)(50.45,0.38)(50.48,2.68)(50.52,-1.29)(50.55,0.13)(50.58,-0.64)(50.62,1.77)(50.65,-2.52)
(50.68,0.92)(50.72,2.22)(50.75,-0.33)(50.78,-1.71)(50.82,1.29)(50.85,0.47)(50.88,-2.41)(50.92,2.01)(50.95,-0.91)(50.98,0.74)
};
\node[anchor=base west, inner sep=0pt, font=\bfseries\fontsize{12.48}{14}\selectfont] at (axis cs:18.02,-3.937)
  {Max Smoothing Residual: 3.360\_Vdk1.D5\ \ Sigma= 1.376ns14/53\_08/04/26Mn\_\_\_-318.571};
\end{axis}

% ---------------- bottom left: MDEV ----------------
\begin{axis}[myax, tauax,
  at={(84.65pt,72pt)}, width=269.6pt, height=224.65pt,
  xmin=3, ymin=-15.5, ymax=-10.5,
  ytick={-15,-14,-13,-12,-11}, yticklabels={−15,−14,−13,−12,−11},
  minor ytick={-15.5,-14.5,-13.5,-12.5,-11.5,-10.5},
  ylabel={Modified Allan Deviation (10\textsuperscript{-15})},
  ylabel style={at={(axis description cs:-0.1595,0.5)}},
]
\addplot[only marks, mark=*, mark size=2.9pt, mark options={black},
  point meta=explicit symbolic, nodes near coords,
  every node near coord/.append style={text=red, font=\bfseries\fontsize{9.5}{11}\selectfont, anchor=base, yshift=4.5pt, inner sep=0pt}]
  table[meta=lab] {\mdevtab};
\addplot[only marks, mark=*, mark size=2.9pt, mark options={black},
  point meta=explicit symbolic, nodes near coords,
  every node near coord/.append style={text=red, font=\bfseries\fontsize{9.5}{11}\selectfont, anchor=base, yshift=4.65pt, inner sep=0pt}]
  table[meta=lab] {\markltab};
\node[anchor=base west, inner sep=0pt, font=\bfseries\fontsize{9}{11}\selectfont] at (axis cs:3.245,-10.848) {$\tau$ = 1150s};
\end{axis}

% ---------------- bottom right: TDEV ----------------
\begin{axis}[myax, tauax,
  at={(426.55pt,72pt)}, width=270.75pt, height=224.65pt,
  xmin=2.75, ymin=-10, ymax=-7.5,
  ytick={-10,-9,-8}, yticklabels={−10,−9,−8},
  minor ytick={-9.5,-8.5,-7.5},
  ylabel={Time deviation (10\textsuperscript{-10} s)},
  ylabel style={at={(axis description cs:-0.1511,0.5)}},
]
\addplot[only marks, mark=*, mark size=2.9pt, mark options={black},
  point meta=explicit symbolic, nodes near coords,
  every node near coord/.append style={text=red, font=\bfseries\fontsize{9.5}{11}\selectfont, anchor=base, yshift=8.5pt, inner sep=0pt}]
  table[meta=lab] {\tdevtab};
\addplot[only marks, mark=*, mark size=2.9pt, mark options={black},
  point meta=explicit symbolic, nodes near coords,
  every node near coord/.append style={text=red, font=\bfseries\fontsize{9.5}{11}\selectfont, anchor=base, yshift=7.55pt, inner sep=0pt}]
  table[meta=lab] {\markrtab};
\end{axis}
\end{tikzpicture}
\end{document}
